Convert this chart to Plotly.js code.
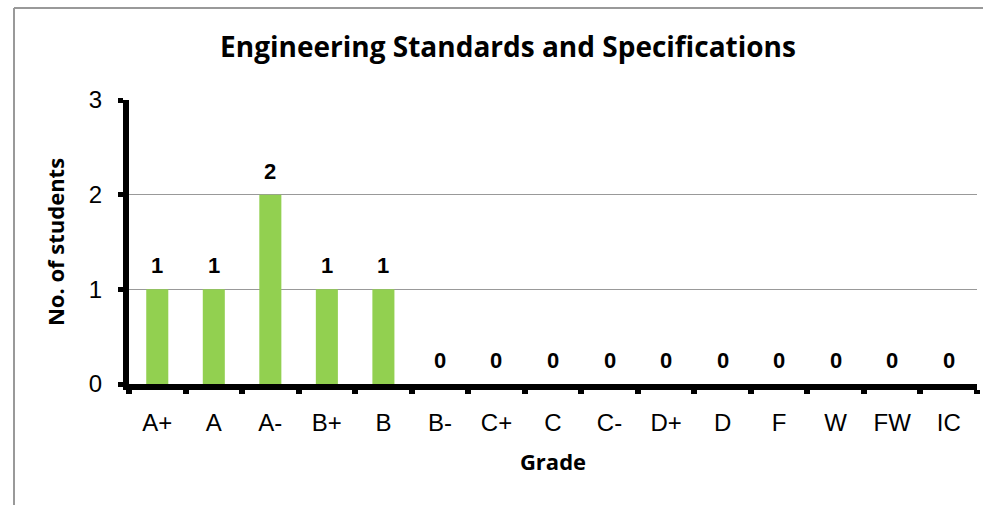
<!DOCTYPE html>
<html>
<head>
<meta charset="utf-8">
<script src="https://cdn.plot.ly/plotly-3.0.1.min.js"></script>
<style>html,body{margin:0;padding:0;background:#fff;}#chart{width:983px;height:505px;}</style>
</head>
<body>
<div id="chart"></div>
<script>
const grades = ["A+","A","A-","B+","B","B-","C+","C","C-","D+","D","F","W","FW","IC"];
const students = [1,1,2,1,1,0,0,0,0,0,0,0,0,0,0];
const yTicks = [0,1,2,3];

const titleFont = "'Open Sans', Lato, sans-serif";
const armFont = "'Liberation Sans', Arial, sans-serif";

const bars = {
  type: "bar",
  x: grades,
  y: students,
  marker: {color: "#92D050"},
  hoverinfo: "x+y"
};

const labels = grades.map((g, i) => ({
  x: g, y: students[i], xref: "x", yref: "y",
  text: "<b>" + students[i] + "</b>",
  showarrow: false, yanchor: "bottom", yshift: 9,
  font: {family: armFont, size: 22, color: "#000"}
}));

const L = 129, T = 100, W = 848, H = 284;
const px = v => (v - L) / W;
const py = v => (T + H - v) / H;

const layout = {
  width: 983, height: 505,
  margin: {l: L, r: 983 - L - W, t: T, b: 505 - T - H},
  paper_bgcolor: "#fff", plot_bgcolor: "#fff",
  showlegend: false,
  bargap: 0.61,
  title: {
    text: "<b>Engineering Standards and Specifications</b>",
    font: {family: titleFont, size: 28, color: "#000"},
    xref: "container", x: 508 / 983, xanchor: "center",
    yref: "container", y: 1 - 47 / 505, yanchor: "middle"
  },
  xaxis: {
    type: "category",
    showline: true, linecolor: "#000", linewidth: 6,
    ticks: "outside", tickson: "boundaries", ticklen: 4, tickwidth: 6, tickcolor: "#000",
    tickfont: {family: armFont, size: 24, color: "#000"},
    ticklabelstandoff: 12,
    showgrid: false, zeroline: false,
    title: {text: "<b>Grade</b>", font: {family: titleFont, size: 22, color: "#000"}, standoff: 22}
  },
  yaxis: {
    range: [0, 3], tickvals: yTicks,
    showline: true, linecolor: "#000", linewidth: 6,
    ticks: "outside", ticklen: 5, tickwidth: 5, tickcolor: "#000",
    tickfont: {family: armFont, size: 24, color: "#000"},
    ticklabelstandoff: 11,
    showgrid: true, gridcolor: "#999999", gridwidth: 1,
    zeroline: false,
    title: {text: "<b>No. of students</b>", font: {family: titleFont, size: 22, color: "#000"}, standoff: 20}
  },
  annotations: labels,
  shapes: [
    {type: "line", xref: "paper", yref: "paper", x0: px(14), x1: px(990), y0: py(8), y1: py(8), line: {color: "#999", width: 2}},
    {type: "line", xref: "paper", yref: "paper", x0: px(14), x1: px(14), y0: py(8), y1: py(510), line: {color: "#999", width: 2}}
  ]
};

Plotly.newPlot("chart", [bars], layout, {displayModeBar: false, staticPlot: true});
</script>
</body>
</html>
